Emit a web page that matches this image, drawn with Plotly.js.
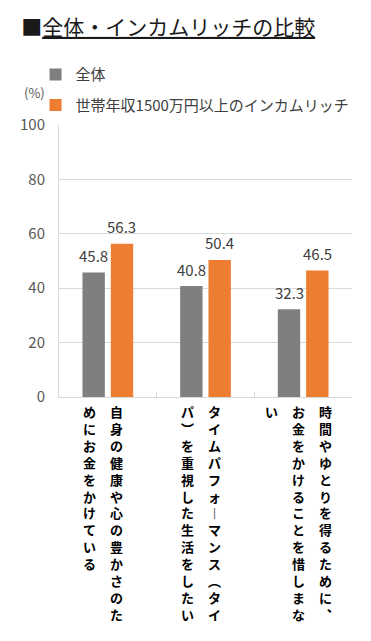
<!DOCTYPE html>
<html>
<head>
<meta charset="utf-8">
<script src="https://cdn.plot.ly/plotly-3.0.1.min.js"></script>
<style>
html,body{margin:0;padding:0;background:#fff;}
#chart{width:371px;height:641px;}
</style>
</head>
<body>
<div id="chart"></div>
<script>
const chartTitle = '全体・インカムリッチの比較';
const categories = [
  '自身の健康や心の豊かさのためにお金をかけている',
  'タイムパフォーマンス（タイパ）を重視した生活をしたい',
  '時間やゆとりを得るために、お金をかけることを惜しまない'
];
const seriesNames = ['全体', '世帯年収1500万円以上のインカムリッチ'];
const allValues = [45.8, 40.8, 32.3];
const richValues = [56.3, 50.4, 46.5];
const yTickVals = [0, 20, 40, 60, 80, 100];
const yUnit = '(%)';

const FONT = '"Noto Sans CJK JP", "Noto Sans", sans-serif';
const verticalForms = {'（':'︵','）':'︶','、':'︑','ー':'︱'};

const W = 371, H = 641;
const M = {l: 59, r: 19, t: 125, b: 244};
const BARGAP = 0.42;
const catWidth = (W - M.l - M.r) / categories.length;
const slot = catWidth * (1 - BARGAP) / 2;

function barTrace(name, values, color, group) {
  return {
    type: 'bar', name: name, x: categories, y: values,
    legendgroup: group,
    marker: {color: color},
    hoverinfo: 'none'
  };
}
const traces = [
  barTrace(seriesNames[0], allValues, '#7f7f7f', 'g1'),
  barTrace(seriesNames[1], richValues, '#ed7d31', 'g2')
];

const annotations = [];
// value labels above bars
[allValues, richValues].forEach((vals, s) => {
  vals.forEach((v, i) => {
    annotations.push({
      xref: 'x', yref: 'y', x: categories[i], y: v,
      xanchor: 'center', yanchor: 'middle',
      xshift: (s === 0 ? -1 : 1) * slot / 2, yshift: 17,
      text: v.toFixed(1), showarrow: false,
      font: {family: FONT, size: 15, color: '#404040'}
    });
  });
});
// vertical category labels, columns right-to-left, 13 chars per column
const perCol = 13;
categories.forEach(cat => {
  const chars = Array.from(cat).map(c => verticalForms[c] || c);
  const cols = [];
  for (let i = 0; i < chars.length; i += perCol) cols.push(chars.slice(i, i + perCol));
  const n = cols.length;
  cols.forEach((col, k) => {
    annotations.push({
      xref: 'x', yref: 'y', x: cat, y: 0,
      xanchor: 'center', yanchor: 'top',
      xshift: 13.5 * (n - 1) - 4.5 - 27 * k, yshift: -3,
      text: '<b>' + col.join('<br>') + '</b>',
      showarrow: false, align: 'center',
      font: {family: FONT, size: 13, color: '#000000'}
    });
  });
});
annotations.push({
  xref: 'paper', yref: 'paper', x: -0.082, y: 1.121,
  xanchor: 'center', yanchor: 'middle', text: yUnit, showarrow: false,
  font: {family: FONT, size: 13, color: '#595959'}
});

const layout = {
  width: W, height: H,
  margin: M,
  paper_bgcolor: '#ffffff', plot_bgcolor: '#ffffff',
  font: {family: FONT, color: '#404040'},
  title: {
    text: '■<span style="text-decoration:underline">' + chartTitle + '</span>',
    x: 0.057, xanchor: 'left', xref: 'container',
    y: 0.957, yanchor: 'middle', yref: 'container',
    font: {family: FONT, size: 21, color: '#1a1a1a'}
  },
  barmode: 'group', bargap: BARGAP, bargroupgap: 0.21,
  showlegend: true,
  legend: {
    orientation: 'v', x: -0.08, xanchor: 'left', y: 1.245, yanchor: 'top',
    traceorder: 'grouped', tracegroupgap: 8,
    font: {family: FONT, size: 15, color: '#404040'},
    bgcolor: 'rgba(0,0,0,0)'
  },
  xaxis: {
    type: 'category', range: [-0.5, 2.5], fixedrange: true,
    showticklabels: false, showgrid: false, zeroline: false,
    showline: true, linecolor: '#d9d9d9', linewidth: 1,
    tickson: 'boundaries', ticks: 'inside', ticklen: 5, tickcolor: '#d9d9d9'
  },
  yaxis: {
    range: [0, 100], tickvals: yTickVals, fixedrange: true,
    showgrid: true, gridcolor: '#d9d9d9', gridwidth: 1,
    zeroline: false, showline: true, linecolor: '#d9d9d9',
    ticks: '', ticklabelstandoff: 10,
    tickfont: {family: FONT, size: 15, color: '#595959'}
  },
  annotations: annotations
};

Plotly.newPlot('chart', traces, layout, {displayModeBar: false, staticPlot: true});
</script>
</body>
</html>
